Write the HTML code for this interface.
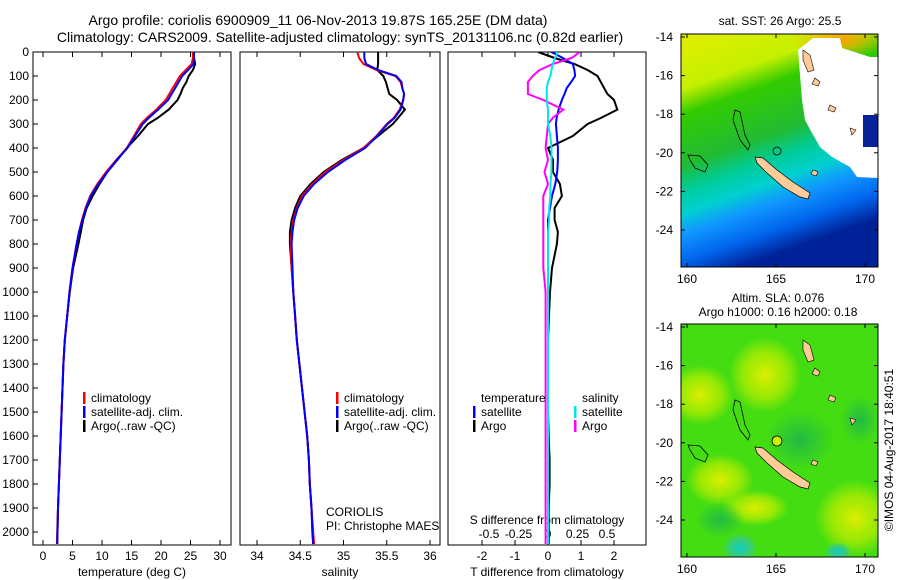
<!DOCTYPE html>
<html><head><meta charset="utf-8"><style>
body{margin:0;background:#fff;}
svg{display:block;font-family:"Liberation Sans",sans-serif;}
</style></head><body>
<svg id="fig" width="900" height="580" viewBox="0 0 900 580">
<defs>
<clipPath id="c1"><rect x="33" y="52" width="198" height="493"/></clipPath>
<clipPath id="c2"><rect x="240" y="52" width="200" height="493"/></clipPath>
<clipPath id="c3"><rect x="448" y="52" width="198" height="493"/></clipPath>
<linearGradient id="sst" x1="0" y1="0" x2="0.3" y2="1">
<stop offset="0" stop-color="#e4ee00"/><stop offset="0.22" stop-color="#c4f000"/>
<stop offset="0.32" stop-color="#33cc00"/><stop offset="0.52" stop-color="#22bb33"/>
<stop offset="0.62" stop-color="#00cc99"/><stop offset="0.71" stop-color="#00d0d0"/>
<stop offset="0.79" stop-color="#1199ff"/><stop offset="0.9" stop-color="#0066ee"/>
<stop offset="1" stop-color="#002299"/></linearGradient>
<radialGradient id="yb"><stop offset="0" stop-color="#ddee00"/><stop offset="0.6" stop-color="#bbee00" stop-opacity="0.7"/><stop offset="1" stop-color="#bbee00" stop-opacity="0"/></radialGradient>
<radialGradient id="db"><stop offset="0" stop-color="#22bb44"/><stop offset="1" stop-color="#22bb44" stop-opacity="0"/></radialGradient>
<radialGradient id="cb"><stop offset="0" stop-color="#11ccbb"/><stop offset="0.5" stop-color="#33cc88"/><stop offset="1" stop-color="#33cc88" stop-opacity="0"/></radialGradient>
<radialGradient id="ob"><stop offset="0" stop-color="#ff9900"/><stop offset="1" stop-color="#ffbb00" stop-opacity="0"/></radialGradient>
<clipPath id="m1"><rect x="681" y="34" width="197" height="233"/></clipPath>
<clipPath id="m2"><rect x="681" y="324" width="197" height="233"/></clipPath>
</defs>
<text x="318" y="25" font-size="14" text-anchor="middle">Argo profile: coriolis 6900909_11 06-Nov-2013 19.87S 165.25E (DM data)</text>
<text x="340" y="42" font-size="14" text-anchor="middle">Climatology: CARS2009. Satellite-adjusted climatology: synTS_20131106.nc (0.82d earlier)</text>
<g id="axes"></g>
<g id="marks"></g>

<g clip-path="url(#m1)">
<rect x="681" y="34" width="197" height="233" fill="url(#sst)"/>
<ellipse cx="840" cy="40" rx="50" ry="18" fill="url(#ob)"/>
<polygon points="798,50 813,38 840,38 842,48 870,57 878,57 878,178 857,177 850,167 832,157 820,147 812,133 805,120 802,100 800,75" fill="#fff"/>
<rect x="863" y="115" width="15" height="32" fill="#0a2299"/>
<polygon points="755,157 763,158 777,170 793,182 810,193 808,199 800,197 783,187 767,173 757,163" fill="#ffcc99" stroke="#000" stroke-width="0.7"/>
<path d="M735,110 L740,112 L745,135 L750,145 L748,150 L740,140 L733,120Z M688,155 L700,156 L708,165 L705,172 L695,168 L690,160Z" fill="none" stroke="#000" stroke-width="0.8"/>
<circle cx="777" cy="151" r="4" fill="none" stroke="#000" stroke-width="0.8"/>
<path d="M803,50 L810,55 L814,70 L808,72 L803,60Z M815,78 L820,82 L818,86 L812,84Z M830,105 L836,108 L834,112 L828,110Z M850,128 L856,130 L852,135Z M813,170 L818,172 L816,176 L811,174Z" fill="#ffcc99" stroke="#000" stroke-width="0.6"/>
</g>
<rect x="681" y="34" width="197" height="233" fill="none" stroke="#000"/>
<text x="780" y="25" font-size="12" text-anchor="middle">sat. SST: 26 Argo: 25.5</text>

<g clip-path="url(#m2)">
<rect x="681" y="324" width="197" height="233" fill="#44dd11"/>
<ellipse cx="700" cy="395" rx="34" ry="30" fill="url(#yb)"/>
<ellipse cx="765" cy="375" rx="36" ry="38" fill="url(#yb)"/>
<ellipse cx="720" cy="480" rx="34" ry="26" fill="url(#yb)"/>
<ellipse cx="755" cy="508" rx="34" ry="18" fill="url(#yb)"/>
<ellipse cx="855" cy="518" rx="40" ry="38" fill="url(#yb)"/>
<ellipse cx="800" cy="440" rx="35" ry="30" fill="url(#db)"/>
<ellipse cx="720" cy="520" rx="25" ry="18" fill="url(#db)"/>
<ellipse cx="860" cy="420" rx="20" ry="25" fill="url(#db)"/>
<ellipse cx="740" cy="548" rx="18" ry="15" fill="url(#cb)"/>
<ellipse cx="838" cy="552" rx="14" ry="10" fill="url(#cb)"/>
<circle cx="777" cy="441" r="5" fill="#ccee00" stroke="#000" stroke-width="0.8"/>
<polygon points="755,447 763,448 777,460 793,472 810,483 808,489 800,487 783,477 767,463 757,453" fill="#ffcc99" stroke="#000" stroke-width="0.7"/>
<path d="M735,400 L740,402 L745,425 L750,435 L748,440 L740,430 L733,410Z M688,445 L700,446 L708,455 L705,462 L695,458 L690,450Z" fill="none" stroke="#000" stroke-width="0.8"/>
<path d="M803,340 L810,345 L814,360 L808,362 L803,350Z M815,368 L820,372 L818,376 L812,374Z M830,395 L836,398 L834,402 L828,400Z M850,418 L856,420 L852,425Z M813,460 L818,462 L816,466 L811,464Z" fill="#ffcc99" stroke="#000" stroke-width="0.6"/>
</g>
<rect x="681" y="324" width="197" height="233" fill="none" stroke="#000"/>
<text x="778" y="302" font-size="12" text-anchor="middle">Altim. SLA: 0.076</text>
<text x="778" y="316" font-size="12" text-anchor="middle">Argo h1000: 0.16 h2000: 0.18</text>
<g id="maptick"></g>
<text transform="translate(893,450) rotate(-90)" font-size="12" text-anchor="middle">©IMOS 04-Aug-2017 18:40:51</text>
</svg>
<script>
const depths = [0,25,50,75,100,125,150,175,200,240,275,300,350,400,450,500,550,600,650,700,750,800,900,1000,1100,1200,1300,1400,1500,1600,1700,1800,1900,2000,2050];
const tempClim = [25.4,25.4,25.2,24.2,23.2,22.6,22.0,21.4,20.8,19.2,17.6,16.6,15.4,14.2,12.4,10.7,9.2,8.0,7.2,6.6,6.1,5.7,5.0,4.5,4.1,3.7,3.45,3.3,3.15,3.0,2.85,2.7,2.55,2.4,2.35];
const tempSat = [25.6,25.6,25.5,24.6,23.6,23.0,22.4,21.8,21.2,19.5,17.9,16.9,15.6,14.3,12.5,10.9,9.4,8.1,7.3,6.7,6.1,5.7,5.0,4.5,4.1,3.7,3.45,3.3,3.15,3.0,2.85,2.7,2.55,2.45,2.4];
const tempArgo = [25.6,25.6,25.8,25.4,24.7,24.3,23.7,23.3,22.8,21.3,19.4,17.8,16.1,14.2,12.6,10.9,9.6,8.4,7.4,6.8,6.4,6.0,5.1,4.55,4.1,3.7,3.45,3.3,3.15,3.0,2.85,2.7,2.55,2.45,2.4];
const salClim = [35.16,35.18,35.23,35.38,35.6,35.66,35.68,35.70,35.69,35.65,35.58,35.5,35.38,35.23,35.0,34.79,34.64,34.52,34.46,34.42,34.40,34.39,34.40,34.42,34.44,34.46,34.49,34.52,34.55,34.58,34.6,34.61,34.63,34.65,34.66];
const salSat = [35.24,35.24,35.26,35.40,35.61,35.67,35.68,35.70,35.69,35.66,35.59,35.51,35.39,35.25,35.02,34.82,34.66,34.54,34.47,34.43,34.41,34.40,34.41,34.42,34.44,34.46,34.49,34.52,34.55,34.58,34.6,34.61,34.63,34.64,34.65];
const salArgo = [35.40,35.40,35.40,35.39,35.46,35.49,35.51,35.53,35.62,35.71,35.63,35.57,35.40,35.23,34.98,34.77,34.62,34.50,34.44,34.40,34.38,34.38,34.40,34.42,34.44,34.46,34.49,34.52,34.55,34.58,34.6,34.61,34.63,34.64,34.65];
const tdSat = [0.1,0.45,0.75,0.8,0.82,0.7,0.57,0.5,0.42,0.32,0.26,0.24,0.27,0.3,0.3,0.28,0.22,0.12,0.06,0,0,0,0,0,0,0,0,0,0,0,0,0,0,0.02,0.02];
const tdArgo = [-0.3,0.2,0.8,1.2,1.5,1.6,1.7,1.8,2.0,2.1,1.6,1.2,0.75,0,0.15,0.15,0.36,0.42,0.2,0.2,0.3,0.27,0.12,0.06,0.03,0,0,0,0,0.02,0.05,0.05,0.02,0.02,0.02];
const sdSat = [0.08,0.06,0.04,0.03,0.02,0.0,-0.01,-0.01,-0.01,0.0,0.0,0.0,0.02,0.03,0.03,0.03,0.02,0.02,0.01,0.01,0,0,0,0,0,0,0,0,0,0,0,0,0,0,0];
const sdArgo = [0.27,0.2,0.04,-0.07,-0.13,-0.17,-0.17,-0.17,-0.04,0.13,0.04,0,-0.01,-0.02,0.0,-0.03,0,-0.04,-0.04,-0.04,-0.04,-0.04,-0.04,-0.02,-0.02,-0.02,-0.02,-0.02,-0.02,-0.02,-0.02,-0.02,-0.02,-0.02,-0.02];
const depthTicks = [0,100,200,300,400,500,600,700,800,900,1000,1100,1200,1300,1400,1500,1600,1700,1800,1900,2000];
const tempTicks = [0,5,10,15,20,25,30];
const salTicks = [34,34.5,35,35.5,36];
const tdTicks = [-2,-1,0,1,2];
const sdTicks = [-0.5,-0.25,0,0.25,0.5];
const latTicks = [-14,-16,-18,-20,-22,-24];
const lonTicks = [160,165,170];

const yD = d => 52 + d*0.24;
const xT = t => 43 + t*5.9;
const xS = s => 257 + (s-34)*86.5;
const xTd = v => 548 + v*33;
const xSd = v => 548 + v*118;
const NS='http://www.w3.org/2000/svg';
const axes=document.getElementById('axes'), marks=document.getElementById('marks'), mt=document.getElementById('maptick');
function mk(tag,attrs,parent,txt){const e=document.createElementNS(NS,tag);for(const k in attrs)e.setAttribute(k,attrs[k]);if(txt!==undefined)e.textContent=txt;parent.appendChild(e);return e;}

const panels=[[33,231],[240,440],[448,646]];
panels.forEach((p,i)=>{
  const r=mk('rect',{x:p[0],y:52,width:p[1]-p[0],height:493,fill:'none',stroke:'#000'},axes);
  
  
});
depthTicks.forEach(d=>{
  const y=yD(d);
  mk('line',{x1:33,y1:y,x2:38,y2:y,stroke:'#000'},axes);
  const t=mk('text',{x:29,y:y+4,'font-size':12,'text-anchor':'end'},axes,String(d));
  
  
});
function xticks(vals,fx,lblY,g){vals.forEach(v=>{const x=fx(v);
  mk('line',{x1:x,y1:52,x2:x,y2:57,stroke:'#000'},axes);
  mk('line',{x1:x,y1:545,x2:x,y2:540,stroke:'#000'},axes);
  const t=mk('text',{x:x,y:lblY,'font-size':12,'text-anchor':'middle'},axes,String(v));
  
  
});}
xticks(tempTicks,xT,560,'temperature-tick-label');
xticks(salTicks,xS,560,'salinity-tick-label');
xticks(tdTicks,xTd,560,'t-diff-tick-label');
sdTicks.forEach(v=>{const t=mk('text',{x:xSd(v),y:538,'font-size':12,'text-anchor':'middle'},axes,String(v));
  
  });
[['temperature (deg C)',132,576,'temperature-axis-title'],['salinity',340,576,'salinity-axis-title'],['T difference from climatology',547,576,'t-diff-axis-title'],['S difference from climatology',547,524,'s-diff-axis-title']].forEach(a=>{
  const t=mk('text',{x:a[1],y:a[2],'font-size':12,'text-anchor':'middle'},axes,a[0]);
  
  });
[['CORIOLIS',326,516],['PI: Christophe MAES',326,530]].forEach((a,i)=>{
  const t=mk('text',{x:a[1],y:a[2],'font-size':12},axes,a[0]);
  
  });

function line(vals,fx,color,clip,name){
  const d=vals.map((v,i)=>(i?'L':'M')+fx(v).toFixed(1)+','+yD(depths[i]).toFixed(1)).join('');
  const p=mk('path',{d:d,fill:'none',stroke:color,'stroke-width':2,'clip-path':'url(#'+clip+')'},marks);
  
  
}
line(tempArgo,xT,'#000','c1','temp-argo-line');
line(tempClim,xT,'#ff0000','c1','temp-climatology-line');
line(tempSat,xT,'#0000ff','c1','temp-satellite-line');
line(salArgo,xS,'#000','c2','sal-argo-line');
line(salClim,xS,'#ff0000','c2','sal-climatology-line');
line(salSat,xS,'#0000ff','c2','sal-satellite-line');
line(tdArgo,xTd,'#000','c3','tdiff-argo-line');
line(tdSat,xTd,'#0000ff','c3','tdiff-satellite-line');
line(sdArgo,xSd,'#ff00ff','c3','sdiff-argo-line');
line(sdSat,xSd,'#00e5ee','c3','sdiff-satellite-line');

function leg(x,y,color,label){
  mk('rect',{x:x-8,y:y-10,width:2.5,height:12,fill:color},marks);
  const t=mk('text',{x:x,y:y,'font-size':12},marks,label);
  
  
}
[[91,'#ff0000','climatology'],[91,'#0000ff','satellite-adj. clim.'],[91,'#000','Argo(..raw -QC)']].forEach((a,i)=>{leg(a[0],402+i*14,a[1],a[2]);leg(a[0]+253,402+i*14,a[1],a[2]);});
const th=mk('text',{x:481,y:402,'font-size':12},marks,'temperature');


const sh=mk('text',{x:582,y:402,'font-size':12},marks,'salinity');


leg(481,416,'#0000ff','satellite');leg(481,430,'#000','Argo');
leg(582,416,'#00e5ee','satellite');leg(582,430,'#ff00ff','Argo');

[[34,267],[324,557]].forEach((m,k)=>{
  latTicks.forEach(l=>{const y=m[0]+3+(-14-l)*19.3;
    mk('line',{x1:681,y1:y,x2:685,y2:y,stroke:'#000'},mt);
    mk('line',{x1:878,y1:y,x2:874,y2:y,stroke:'#000'},mt);
    const t=mk('text',{x:673,y:y+4,'font-size':12,'text-anchor':'end'},mt,String(l));
    
    });
  lonTicks.forEach(l=>{const x=687+(l-160)*17.8;
    mk('line',{x1:x,y1:m[0],x2:x,y2:m[0]+4,stroke:'#000'},mt);
    mk('line',{x1:x,y1:m[1],x2:x,y2:m[1]-4,stroke:'#000'},mt);
    const t=mk('text',{x:x,y:m[1]+16,'font-size':12,'text-anchor':'middle'},mt,String(l));
    
    });
});
</script>
</body></html>
